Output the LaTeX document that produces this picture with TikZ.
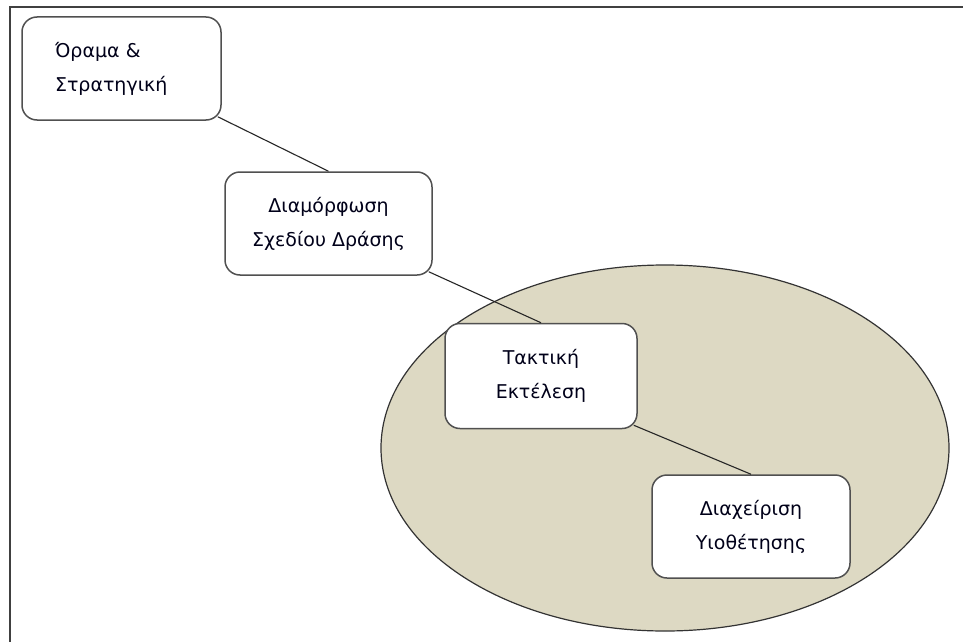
\documentclass[tikz,border=0pt]{standalone}
\usepackage{fontspec}
\setmainfont{DejaVu Sans}
\definecolor{tanfill}{HTML}{DDD9C3}
\definecolor{framegray}{HTML}{404040}
\definecolor{boxgray}{HTML}{505050}
\begin{document}
\begin{tikzpicture}[x=1pt,y=-1pt,
  stepbox/.style={draw=boxgray, line width=1.5pt, fill=white, rounded corners=15pt,
    font=\fontsize{19}{34}\selectfont, text=black!90!blue, align=center},
  link/.style={draw=black!85, line width=1.1pt}]
\useasboundingbox (0,0) rectangle (963,642);
\fill[white] (0,0) rectangle (963,642);
% outer frame (top and left)
\draw[framegray, line width=2pt] (9.5,642) -- (9.5,7) -- (963,7);
% ellipse
\draw[fill=tanfill, draw=black!80, line width=1.2pt] (665,448) ellipse [x radius=284, y radius=183];
% boxes
\node[stepbox, minimum width=199pt, minimum height=103pt, text width=133pt, inner xsep=33pt, align=left]
  (b1) at (121.5,68.5) {Όραμα \&\\Στρατηγική};
\node[stepbox, minimum width=207pt, minimum height=103pt] (b2) at (328.5,223.5) {Διαμόρφωση\\Σχεδίου Δράσης};
\node[stepbox, minimum width=192pt, minimum height=105pt] (b3) at (541,376) {Τακτική\\Εκτέλεση};
\node[stepbox, minimum width=198pt, minimum height=103pt] (b4) at (751,526.5) {Διαχείριση\\Υιοθέτησης};
% connectors
\draw[link] ([shift={(-4,-4)}]b1.south east) -- (b2.north);
\draw[link] ([shift={(-4,-4)}]b2.south east) -- (b3.north);
\draw[link] ([shift={(-4,-4)}]b3.south east) -- (b4.north);
\end{tikzpicture}
\end{document}
